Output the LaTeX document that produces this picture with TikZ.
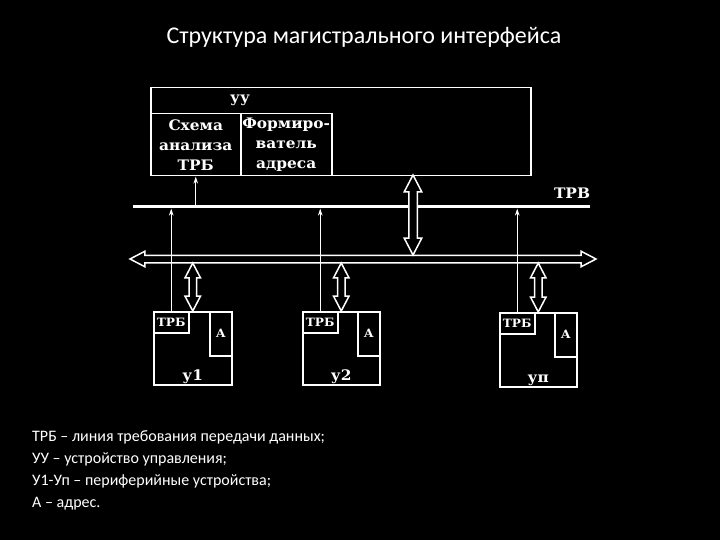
\documentclass[tikz,border=0pt]{standalone}
\usepackage{fontspec}
\setmainfont{Carlito}
\newfontfamily\bookfont[FakeStretch=1.06]{DejaVu Serif}
\usetikzlibrary{arrows.meta,positioning,shapes.arrows,calc}
\tikzset{
  >={Stealth[length=7pt,width=4.5pt]},
  frame/.style={draw=white,line width=1.5pt,inner sep=0pt,text=white,align=center,
    font=\bookfont\bfseries\fontsize{14.5}{20}\selectfont},
  tagbox/.style={frame,font=\bookfont\bfseries\fontsize{11.5}{13}\selectfont},
  lbl/.style={text=white,inner sep=0pt,font=\bookfont\bfseries\fontsize{14.5}{20}\selectfont},
  sig/.style={->,draw=white,line width=1.2pt},
  trbline/.style={draw=white,line width=3pt},
  dblarrow/.style={shape=double arrow,draw=white,line width=1.5pt,fill=black,
    inner sep=0pt,minimum width=0pt,text height=#1,text depth=0pt,
    double arrow head extend=4pt,double arrow tip angle=55},
  dblarrow/.default=6pt,
}

\begin{document}
\begin{tikzpicture}[x=1pt,y=-1pt]
  \fill[black] (0,0) rectangle (720,540);
  \useasboundingbox (0,0) rectangle (720,540);

  \node[text=white,font=\fontsize{24}{28}\selectfont] (title) at (364,37) {Структура магистрального интерфейса};

  % control unit
  \node[frame,anchor=north west,minimum width=380,minimum height=88] (uu) at (150,87) {};
  \node[lbl] (uutag) at (240,100) {уу};
  \node[frame,anchor=north west,minimum width=90,minimum height=62] (schema) at (150,113) {Схема\\анализа\\ТРБ};
  \node[frame,anchor=north west,minimum width=91,minimum height=62] (former) at (240,113) {Формиро-\\ватель\\адреса};
  \coordinate (uuport) at (413,175);

  % request line and bus
  \coordinate (trbL) at (133,207);
  \coordinate (trbR) at (590,207);
  \draw[trbline] (trbL) -- (trbR);
  \node[lbl,anchor=base] (trbtag) at (572,199) {ТРВ};
  \coordinate (busL) at (130,259);
  \coordinate (busR) at (596,259);
  \coordinate (busT) at (363,255);
  \coordinate (busB) at (363,263);
  \path let \p1=(busL),\p2=(busR),\n1={veclen(\x2-\x1,\y2-\y1)} in
    node[dblarrow,minimum height=\n1] (bus) at ($(busL)!.5!(busR)$) {};

  % devices
  \node[frame,anchor=north west,minimum width=78,minimum height=73] (dev1) at (153,311) {};
  \node[frame,anchor=north west,minimum width=77,minimum height=73] (dev2) at (302,311) {};
  \node[frame,anchor=north west,minimum width=77,minimum height=74] (devn) at (499,312) {};
  \foreach \d/\t in {1/у1,2/у2,n/уп}{
    \node[tagbox,anchor=north west,minimum width=35,minimum height=21] (trb\d) at (dev\d.north west) {ТРБ};
    \node[tagbox,anchor=north east,minimum width=22,minimum height=44] (adr\d) at (dev\d.north east) {А};
    \node[lbl,anchor=base] (name\d) at ([yshift=5pt]dev\d.south) {\t};
    \draw[sig,shorten >=1.5pt] (trb\d.north) -- (trb\d.north |- trbL);
    \path let \p1=(dev\d.north |- busB),\p2=(dev\d.north),\n1={veclen(\x2-\x1,\y2-\y1)} in
      node[dblarrow,minimum height=\n1,rotate=90] (link\d) at ($(dev\d.north |- busB)!.5!(dev\d.north)$) {};
  }

  \draw[sig,shorten <=1.5pt] (schema.south |- trbL) -- (schema.south);
  \path let \p1=(uuport |- busT),\p2=(uuport),\n1={veclen(\x2-\x1,\y2-\y1)} in
    node[dblarrow=7pt,minimum height=\n1,rotate=90,double arrow head extend=4.5pt] (uulink) at ($(uuport |- busT)!.5!(uuport)$) {};

  % legend
  \node[anchor=north west,inner sep=0pt,align=left,text=white,
    font=\fontsize{16}{22.2}\selectfont] (legend) at (32,430)
    {ТРБ – линия требования передачи данных;\\
     УУ – устройство управления;\\
     У1-Уп – периферийные устройства;\\
     А – адрес.};
\end{tikzpicture}
\end{document}
